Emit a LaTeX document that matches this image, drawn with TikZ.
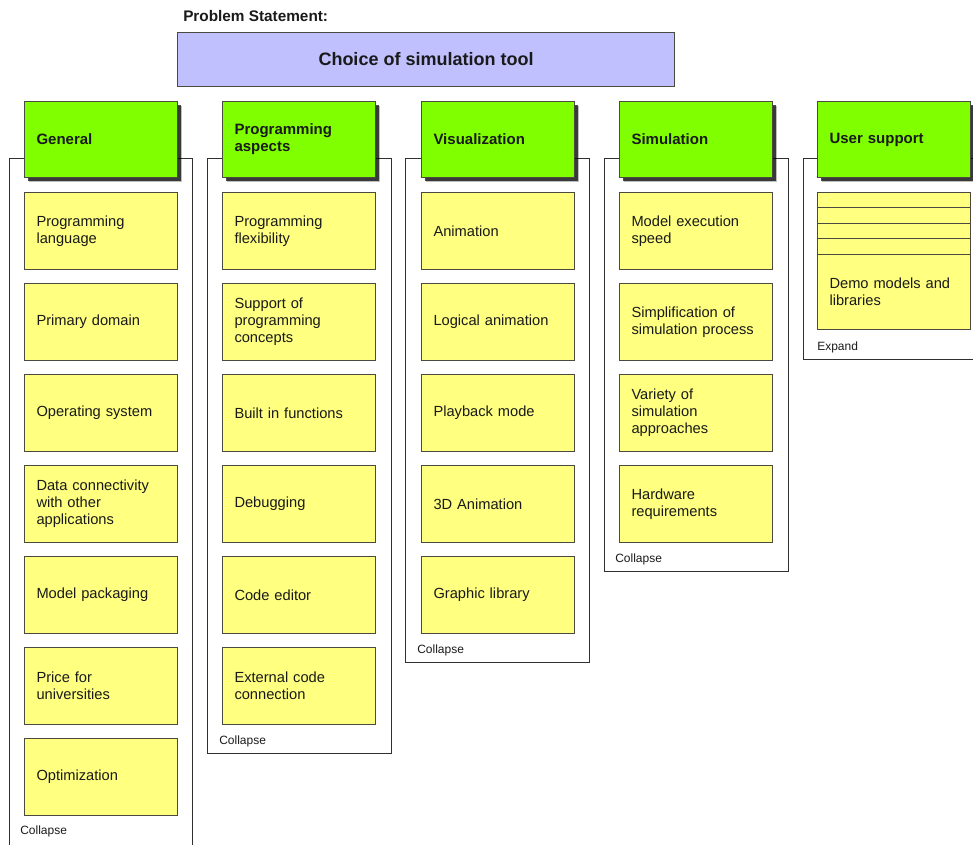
\documentclass[tikz,border=0pt]{standalone}
\usepackage{fontspec}
\setmainfont{Liberation Sans}
\usetikzlibrary{shadows}
\definecolor{yel}{HTML}{FFFF80}
\definecolor{grn}{HTML}{80FF00}
\definecolor{lav}{HTML}{C0C0FF}
\definecolor{edgec}{HTML}{4A4A40}
\definecolor{frm}{HTML}{303030}
\definecolor{txt}{HTML}{1A1A1A}
\tikzset{
  item/.style={draw=edgec, line width=0.75pt, fill=yel, anchor=north west,
    minimum width=114.75pt, minimum height=57.75pt, inner xsep=9pt, inner ysep=0pt,
    text width=96.75pt, align=left, text=txt, font=\fontsize{11}{12.75}\selectfont},
  stripe/.style={draw=edgec, line width=0.75pt, fill=yel, anchor=north west,
    minimum width=114.75pt, minimum height=11.55pt, inner sep=0pt},
  head/.style={draw=edgec, line width=0.75pt, fill=grn, anchor=north west,
    minimum width=114.75pt, minimum height=57pt, inner xsep=9pt, inner ysep=0pt,
    text width=96.75pt, align=left, text=txt,
    font=\bfseries\fontsize{11.25}{12.75}\selectfont,
    drop shadow={shadow xshift=3.6pt, shadow yshift=-3.6pt, fill=black, opacity=0.25},
    drop shadow={shadow xshift=2.4pt, shadow yshift=-2.4pt, fill=black, opacity=0.7}},
  frame/.style={draw=frm, line width=0.7pt},
  note/.style={anchor=west, inner sep=0pt, text=txt, font=\fontsize{9}{10}\selectfont},
}
\begin{document}
\begin{tikzpicture}[x=0.75pt,y=-0.75pt]
\useasboundingbox (0,0) rectangle (973,844);
\clip (0,0) rectangle (973,844);
% problem statement
\node[anchor=west, inner sep=0pt, text=txt, font=\bfseries\fontsize{11.5}{13}\selectfont] (ps) at (183,16) {Problem Statement:};
\node[draw=edgec, line width=0.75pt, fill=lav, anchor=north west, minimum width=372.75pt, minimum height=40.5pt, text=txt,
  font=\bfseries\fontsize{13.5}{16}\selectfont] (title) at (177,32) {Choice of simulation tool};
% frames
\draw[frame] (9,158) rectangle (192,846);
\draw[frame] (207,158) rectangle (391,753);
\draw[frame] (405,158) rectangle (589,662);
\draw[frame] (604,158) rectangle (788,571);
\draw[frame] (803,158) rectangle (990,359);
% headers
\node[head] (h1) at (24,101) {General};
\node[head] (h2) at (222,101) {Programming\\aspects};
\node[head] (h3) at (421,101) {Visualization};
\node[head] (h4) at (619,101) {Simulation};
\node[head] (h5) at (817,101) {User support};
% column 1
\node[item] (a1) at (24,192) {Programming\\language};
\node[item] (a2) at (24,283) {Primary domain};
\node[item] (a3) at (24,374) {Operating system};
\node[item] (a4) at (24,465) {Data connectivity\\with other\\applications};
\node[item] (a5) at (24,556) {Model packaging};
\node[item] (a6) at (24,647) {Price for\\universities};
\node[item] (a7) at (24,738) {Optimization};
\node[note] (n1) at (20,831) {Collapse};
% column 2
\node[item] (b1) at (222,192) {Programming\\flexibility};
\node[item] (b2) at (222,283) {Support of\\programming\\concepts};
\node[item] (b3) at (222,374) {Built in functions};
\node[item] (b4) at (222,465) {Debugging};
\node[item] (b5) at (222,556) {Code editor};
\node[item] (b6) at (222,647) {External code\\connection};
\node[note] (n2) at (219,741) {Collapse};
% column 3
\node[item] (c1) at (421,192) {Animation};
\node[item] (c2) at (421,283) {Logical animation};
\node[item] (c3) at (421,374) {Playback mode};
\node[item] (c4) at (421,465) {3D Animation};
\node[item] (c5) at (421,556) {Graphic library};
\node[note] (n3) at (417,650) {Collapse};
% column 4
\node[item] (d1) at (619,192) {Model execution\\speed};
\node[item] (d2) at (619,283) {Simplification of\\simulation process};
\node[item] (d3) at (619,374) {Variety of\\simulation\\approaches};
\node[item] (d4) at (619,465) {Hardware\\requirements};
\node[note] (n4) at (615,559) {Collapse};
% column 5
\node[stripe] (s1) at (817,192) {};
\node[stripe] (s2) at (817,207.4) {};
\node[stripe] (s3) at (817,222.8) {};
\node[stripe] (s4) at (817,238.2) {};
\node[item, minimum height=56.55pt] (e1) at (817,253.6) {Demo models and\\libraries};
\node[note] (n5) at (817,347) {Expand};
\end{tikzpicture}
\end{document}
